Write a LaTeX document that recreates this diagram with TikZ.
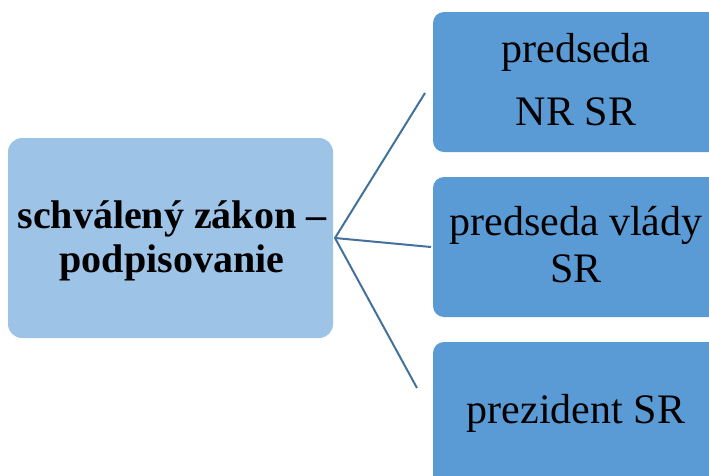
\documentclass[tikz,border=0pt]{standalone}
\usepackage{fontspec}
\setmainfont{Liberation Serif}
\begin{document}
\begin{tikzpicture}[x=1pt,y=-1pt,
  rootbox/.style={fill=root, rounded corners=14pt, draw=none},
  leafbox/.style={fill=leaf, rounded corners=11pt, draw=none},
  link/.style={draw=linkc, line width=2pt},
  lbl/.style={align=center, anchor=base, font=\fontsize{42}{47}\selectfont, inner sep=0pt}]
\definecolor{root}{HTML}{9DC3E6}
\definecolor{leaf}{HTML}{5B9BD5}
\definecolor{linkc}{HTML}{41719C}
\useasboundingbox (0,0) rectangle (709,475);
\clip (0,0) rectangle (709,475);
% boxes
\path[rootbox] (8,138) rectangle (333,338);
\path[leafbox] (433,12) rectangle (730,152);
\path[leafbox] (433,177) rectangle (730,317);
\path[leafbox] (433,342) rectangle (730,500);
% labels (anchored at the baseline of the last line)
\node[lbl, font=\fontsize{40}{44}\selectfont\bfseries] (root) at (172,272) {schválený zákon –\\podpisovanie};
\node[lbl, font=\fontsize{42}{63}\selectfont] (a) at (576,125) {predseda\\NR SR};
\node[lbl] (b) at (576,282) {predseda vlády\\SR};
\node[lbl] (c) at (576,423) {prezident SR};
% connectors
\coordinate (j) at (335,238);
\coordinate (ea) at (425,93);
\coordinate (eb) at (431,247);
\coordinate (ec) at (417,388);
\draw[link] (ea) -- (j) -- (ec);
\draw[link] (j) -- (eb);
\end{tikzpicture}
\end{document}
